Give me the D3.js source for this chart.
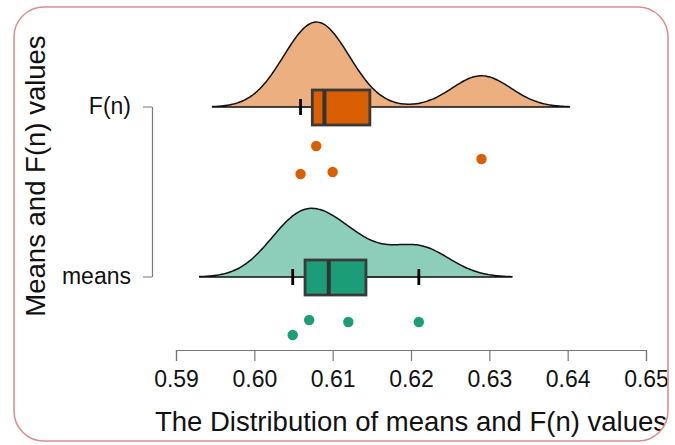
<!DOCTYPE html>
<html>
<head>
<meta charset="utf-8">
<script src="https://d3js.org/d3.v7.min.js"></script>
<style>
  html, body { margin: 0; padding: 0; background: #fff; }
  svg { display: block; font-family: "Liberation Sans", Arial, sans-serif; }
</style>
</head>
<body>
<div id="chart"></div>
<script>
// Raincloud data: values per group, plus the jitter of each rain drop
const groups = ['F(n)', 'means'];
const fnValues = [0.6079, 0.6059, 0.6100, 0.6290];
const meansValues = [0.6070, 0.6049, 0.6120, 0.6210];
const fnJitter = [0.39, 0.67, 0.65, 0.52];
const meansJitter = [0.43, 0.58, 0.45, 0.45];
const groupColors = ['#d95f02', '#1b9e77'];
const xTicks = [0.59, 0.60, 0.61, 0.62, 0.63, 0.64, 0.65];

const width = 675, height = 445;

const svg = d3.select('#chart').append('svg')
    .attr('width', width)
    .attr('height', height);

// rounded panel, content clipped to it
svg.append('clipPath').attr('id', 'panel')
    .append('rect')
    .attr('x', 14).attr('y', 7)
    .attr('width', 654).attr('height', 434)
    .attr('rx', 30).attr('ry', 30);

const g = svg.append('g').attr('clip-path', 'url(#panel)');

const x = d3.scaleLinear().domain([0.59, 0.65]).range([176, 646]);
const y = d3.scalePoint().domain(groups).range([107, 277]);
const jitterY = d3.scaleLinear().domain([0, 1]).range([0, 100]);

// kernel density, R's bw.nrd0 and cut = 3
const kde = (values) => {
    const sd = d3.deviation(values);
    const iqr = d3.quantile(values, 0.75) - d3.quantile(values, 0.25);
    const bw = 0.9 * Math.min(sd, iqr / 1.34) * Math.pow(values.length, -0.2);
    const lo = d3.min(values) - 3 * bw, hi = d3.max(values) + 3 * bw;
    const n = 200;
    return d3.range(n + 1).map(i => {
        const v = lo + (hi - lo) * i / n;
        const d = d3.sum(values, s => Math.exp(-0.5 * ((v - s) / bw) ** 2)) /
            (values.length * bw * Math.sqrt(2 * Math.PI));
        return [v, d];
    });
};

const series = [
    { name: groups[0], values: fnValues, jitter: fnJitter, color: groupColors[0] },
    { name: groups[1], values: meansValues, jitter: meansJitter, color: groupColors[1] }
];
series.forEach(s => {
    s.density = kde(s.values);
    const sorted = s.values.slice().sort(d3.ascending);
    s.q1 = d3.quantile(sorted, 0.25);
    s.med = d3.quantile(sorted, 0.5);
    s.q3 = d3.quantile(sorted, 0.75);
    const iqr = s.q3 - s.q1;
    s.lo = d3.min(sorted.filter(v => v >= s.q1 - 1.5 * iqr));
    s.hi = d3.max(sorted.filter(v => v <= s.q3 + 1.5 * iqr));
});

const maxDensity = d3.max(series, s => d3.max(s.density, d => d[1]));
const h = d3.scaleLinear().domain([0, maxDensity]).range([0, 85]);

series.forEach(s => {
    const base = y(s.name);
    const area = d3.area()
        .x(d => x(d[0]))
        .y0(base)
        .y1(d => base - h(d[1]))
        .curve(d3.curveBasis);

    g.append('path')
        .datum(s.density)
        .attr('d', area)
        .attr('fill', s.color)
        .attr('fill-opacity', 0.5)
        .attr('stroke', '#111')
        .attr('stroke-width', 1.5);

    // whiskers
    if (s.lo < s.q1) {
        g.append('line')
            .attr('x1', x(s.lo)).attr('x2', x(s.q1))
            .attr('y1', base).attr('y2', base)
            .attr('stroke', '#333').attr('stroke-width', 2);
        g.append('line')
            .attr('x1', x(s.lo)).attr('x2', x(s.lo))
            .attr('y1', base - 8).attr('y2', base + 8)
            .attr('stroke', '#000').attr('stroke-width', 2.8);
    }
    if (s.hi > s.q3) {
        g.append('line')
            .attr('x1', x(s.q3)).attr('x2', x(s.hi))
            .attr('y1', base).attr('y2', base)
            .attr('stroke', '#333').attr('stroke-width', 2);
        g.append('line')
            .attr('x1', x(s.hi)).attr('x2', x(s.hi))
            .attr('y1', base - 8).attr('y2', base + 8)
            .attr('stroke', '#000').attr('stroke-width', 2.8);
    }

    // box and median
    g.append('rect')
        .attr('x', x(s.q1)).attr('y', base - 17)
        .attr('width', x(s.q3) - x(s.q1)).attr('height', 35)
        .attr('fill', s.color)
        .attr('stroke', '#3a3a3a').attr('stroke-width', 2.8);
    g.append('line')
        .attr('x1', x(s.med)).attr('x2', x(s.med))
        .attr('y1', base - 17).attr('y2', base + 18)
        .attr('stroke', '#333').attr('stroke-width', 4);

    // rain
    g.append('g').selectAll('circle')
        .data(s.values)
        .join('circle')
        .attr('cx', d => x(d))
        .attr('cy', (d, i) => base + jitterY(s.jitter[i]))
        .attr('r', 5.2)
        .attr('fill', s.color);
});

// x axis
const xAxis = g.append('g')
    .attr('transform', 'translate(0,350)')
    .call(d3.axisBottom(x).tickValues(xTicks).tickFormat(d3.format('.2f')).tickSizeOuter(0).tickSize(11));
xAxis.select('.domain').attr('stroke', '#777').attr('stroke-width', 1.2);
xAxis.selectAll('.tick line').attr('stroke', '#777').attr('stroke-width', 1.2);
xAxis.selectAll('.tick text')
    .attr('font-size', 23)
    .attr('font-family', '"Liberation Sans", Arial, sans-serif')
    .attr('fill', '#111')
    .attr('y', 21)
    .attr('dy', '0.71em');

// y axis (bracket style)
const yAxis = g.append('g')
    .attr('transform', 'translate(152,-0.5)')
    .call(d3.axisLeft(y).tickSize(9).tickPadding(12).tickSizeOuter(0));
yAxis.select('.domain').attr('stroke', '#777').attr('stroke-width', 1.2);
yAxis.selectAll('.tick line').attr('stroke', '#777').attr('stroke-width', 1.2);
yAxis.selectAll('.tick text')
    .attr('font-size', 23)
    .attr('font-family', '"Liberation Sans", Arial, sans-serif')
    .attr('fill', '#111');

// axis titles
g.append('text')
    .attr('x', 411).attr('y', 431)
    .attr('text-anchor', 'middle')
    .attr('font-size', 27.5)
    .attr('fill', '#111')
    .text('The Distribution of means and F(n) values');

g.append('text')
    .attr('transform', 'translate(45,176) rotate(-90)')
    .attr('text-anchor', 'middle')
    .attr('font-size', 27.5)
    .attr('fill', '#111')
    .text('Means and F(n) values');

// panel border
svg.append('rect')
    .attr('x', 14).attr('y', 7)
    .attr('width', 654).attr('height', 434)
    .attr('rx', 30).attr('ry', 30)
    .attr('fill', 'none')
    .attr('stroke', '#d99090')
    .attr('stroke-width', 1.6);
</script>
</body>
</html>
